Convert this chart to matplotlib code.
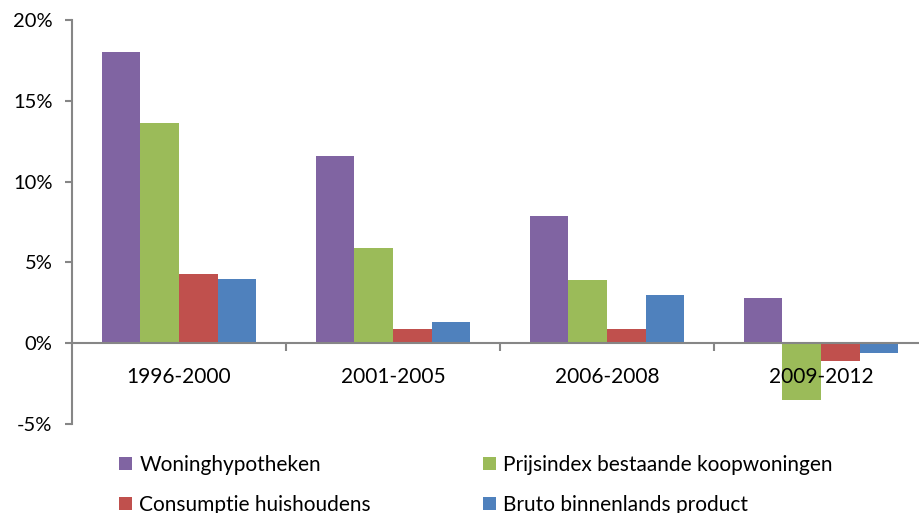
import numpy as np
import matplotlib
matplotlib.use("Agg")
import matplotlib.pyplot as plt
from matplotlib.patches import Patch
from matplotlib.ticker import FuncFormatter

plt.rcParams['font.family'] = ['Lato', 'DejaVu Sans']

# data (percent)
periods = ['1996-2000', '2001-2005', '2006-2008', '2009-2012']
woninghypotheken = [18.0, 11.6, 7.9, 2.8]
prijsindex = [13.6, 5.9, 3.9, -3.5]
consumptie = [4.3, 0.9, 0.9, -1.1]
bbp = [4.0, 1.3, 3.0, -0.6]

series_names = ['Woninghypotheken', 'Prijsindex bestaande koopwoningen',
                'Consumptie huishoudens', 'Bruto binnenlands product']
series_values = [woninghypotheken, prijsindex, consumptie, bbp]
colors = ['#8064A2', '#9BBB59', '#C0504D', '#4F81BD']

W, H = 920, 513
fig = plt.figure(figsize=(W / 100, H / 100), dpi=100)
ax = fig.add_axes([72 / W, 1 - 424 / H, 856 / W, 404 / H])

x = np.arange(len(periods))
width = 0.181
for i, (vals, c) in enumerate(zip(series_values, colors)):
    ax.bar(x + (i - 1.5) * width, vals, width, color=c, linewidth=0, zorder=1)

axis_col = '#868686'
ax.set_axisbelow(False)  # category labels are drawn over the bars
ax.set_xlim(-0.5, 3.5)
ax.set_ylim(-5, 20)
ax.set_yticks([-5, 0, 5, 10, 15, 20])
ax.yaxis.set_major_formatter(FuncFormatter(lambda v, p: f'{v:.0f}%'))

for s in ['top', 'right']:
    ax.spines[s].set_visible(False)
ax.spines['bottom'].set_position(('data', 0))
for s in ['bottom', 'left']:
    ax.spines[s].set_color(axis_col)
    ax.spines[s].set_linewidth(1.5)
    ax.spines[s].set_zorder(3)

ax.set_xticks(x)
ax.set_xticklabels(periods, fontsize=15)
ax.set_xticks([0.5, 1.5, 2.5], minor=True)
ax.tick_params(axis='x', which='major', length=0, pad=17)
ax.tick_params(axis='x', which='minor', length=6, width=1.5, color=axis_col, direction='out')
ax.tick_params(axis='y', length=5, width=1.5, color=axis_col, direction='out',
               pad=9, labelsize=14.5)

# legend: row 1 = Woninghypotheken / Prijsindex, row 2 = Consumptie / BBP
order = [0, 2, 1, 3]
handles = [Patch(facecolor=colors[i], edgecolor='none') for i in order]
labels = [series_names[i] for i in order]
fig.legend(handles, labels, loc='upper left', bbox_to_anchor=(119 / W, 1 - 455 / H),
           ncol=2, frameon=False, fontsize=15, borderpad=0, borderaxespad=0,
           handlelength=0.63, handleheight=0.63, handletextpad=0.34,
           labelspacing=0.95, columnspacing=5.38)

fig.savefig('out.png', dpi=100)
